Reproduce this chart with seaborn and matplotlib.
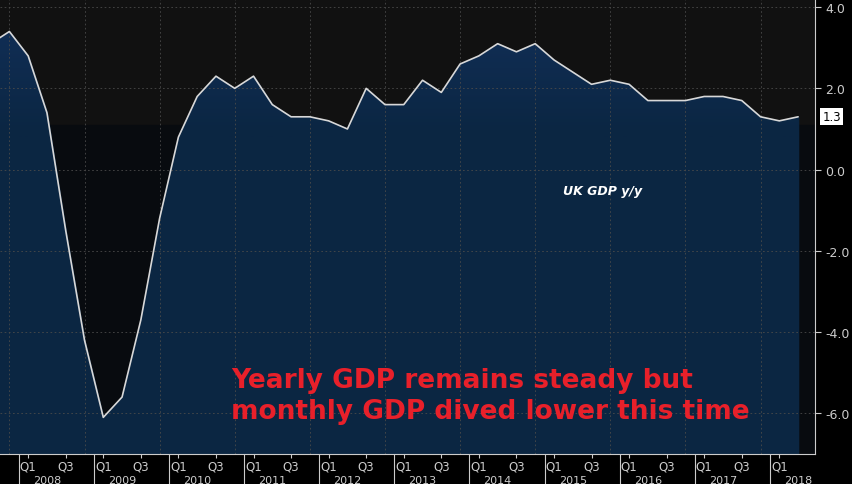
import numpy as np
import matplotlib
matplotlib.use('Agg')
import matplotlib.pyplot as plt
import seaborn as sns

sns.set_style('dark')
plt.rcParams['font.family'] = ['Liberation Sans Narrow', 'DejaVu Sans']

# quarterly UK GDP y/y, Q3 2007 .. Q2 2018
gdp = [3.1, 3.4, 2.8, 1.4, -1.5, -4.2, -6.1, -5.6, -3.7, -1.2,
       0.8, 1.8, 2.3, 2.0, 2.3, 1.6, 1.3, 1.3, 1.2, 1.0,
       2.0, 1.6, 1.6, 2.2, 1.9, 2.6, 2.8, 3.1, 2.9, 3.1,
       2.7, 2.4, 2.1, 2.2, 2.1, 1.7, 1.7, 1.7, 1.8, 1.8,
       1.7, 1.3, 1.2, 1.3]
years = list(range(2008, 2019))
yticks = [4.0, 2.0, 0.0, -2.0, -4.0, -6.0]

# quarter index, Q1 2008 = 0
q = np.arange(len(gdp)) - 2

fig = plt.figure(figsize=(8.52, 4.85), dpi=100, facecolor='black')
ax = fig.add_axes([0, 0.062, 815 / 852, 0.938])
ax.set_facecolor('#111111')
ylo, yhi = -7.0, 4.2
ax.set_xlim(-1.5, 41.9)
ax.set_ylim(ylo, yhi)

# darker background band
ax.axhspan(ylo, 1.1, color='#080b0f', zorder=0)

# area fill with slight gradient
ax.fill_between(q, gdp, ylo, color='#0b2642', zorder=1)
grad = np.linspace(0, 1, 100).reshape(-1, 1)
ax.imshow(grad, extent=[-1.5, 41.9, 0.8, 4.2], aspect='auto', origin='lower',
          cmap=matplotlib.colors.LinearSegmentedColormap.from_list(
              'g', ['#0b2642', '#12305a']), zorder=1)
img = ax.images[0]
poly = ax.fill_between(q, gdp, ylo, color='none', zorder=0)
img.set_clip_path(poly.get_paths()[0], transform=ax.transData)
sns.lineplot(x=q, y=gdp, ax=ax, color='#d8d8d8', linewidth=1.2, zorder=3)

# grid
for y in yticks:
    ax.axhline(y, color='#4a4a4a', linestyle=(0, (2, 3)), linewidth=0.6, zorder=2)
for i in range(-1, 42, 4):
    ax.axvline(i, color='#4a4a4a', linestyle=(0, (2, 3)), linewidth=0.6, zorder=2)

for s in ax.spines.values():
    s.set_visible(False)
ax.spines['right'].set_visible(True)
ax.spines['right'].set_color('#cccccc')
ax.spines['bottom'].set_visible(True)
ax.spines['bottom'].set_color('#cccccc')

ax.yaxis.tick_right()
ax.set_yticks(yticks)
ax.set_yticklabels(['%.1f' % v for v in yticks], color='#cccccc', fontsize=9)
ax.tick_params(axis='y', colors='#cccccc', length=4, direction='out', right=True)

xt, xl = [], []
for k, yr in enumerate(years):
    xt.append(4 * k); xl.append('Q1')
    if yr < 2018:
        xt.append(4 * k + 2); xl.append('Q3')
ax.set_xticks(xt)
ax.set_xticklabels(xl, color='#cccccc', fontsize=8.5)
ax.tick_params(axis='x', colors='#cccccc', length=3, bottom=True, pad=1)
for k, yr in enumerate(years):
    ax.text(4 * k + 1, -0.047, str(yr), transform=ax.get_xaxis_transform(),
            ha='center', va='top', color='#cccccc', fontsize=8)
    ax.plot([4 * k - 0.5] * 2, [0, -0.065], transform=ax.get_xaxis_transform(),
            color='#cccccc', lw=0.8, clip_on=False)

ax.text(42.3, gdp[-1], '1.3', color='black', fontsize=8.5, va='center',
        ha='left', bbox=dict(facecolor='white', edgecolor='none', pad=1.5),
        transform=ax.transData, clip_on=False)

ax.text(28.5, -0.6, 'UK GDP y/y', color='white', fontsize=9,
        style='italic', fontweight='bold')
ax.text(10.8, -5.55, 'Yearly GDP remains steady but\nmonthly GDP dived lower this time',
        color='#e8202a', fontsize=19, fontweight='bold', va='center',
        family=['DejaVu Sans'], linespacing=1.25)

fig.savefig('out.png', dpi=100, facecolor='black')
